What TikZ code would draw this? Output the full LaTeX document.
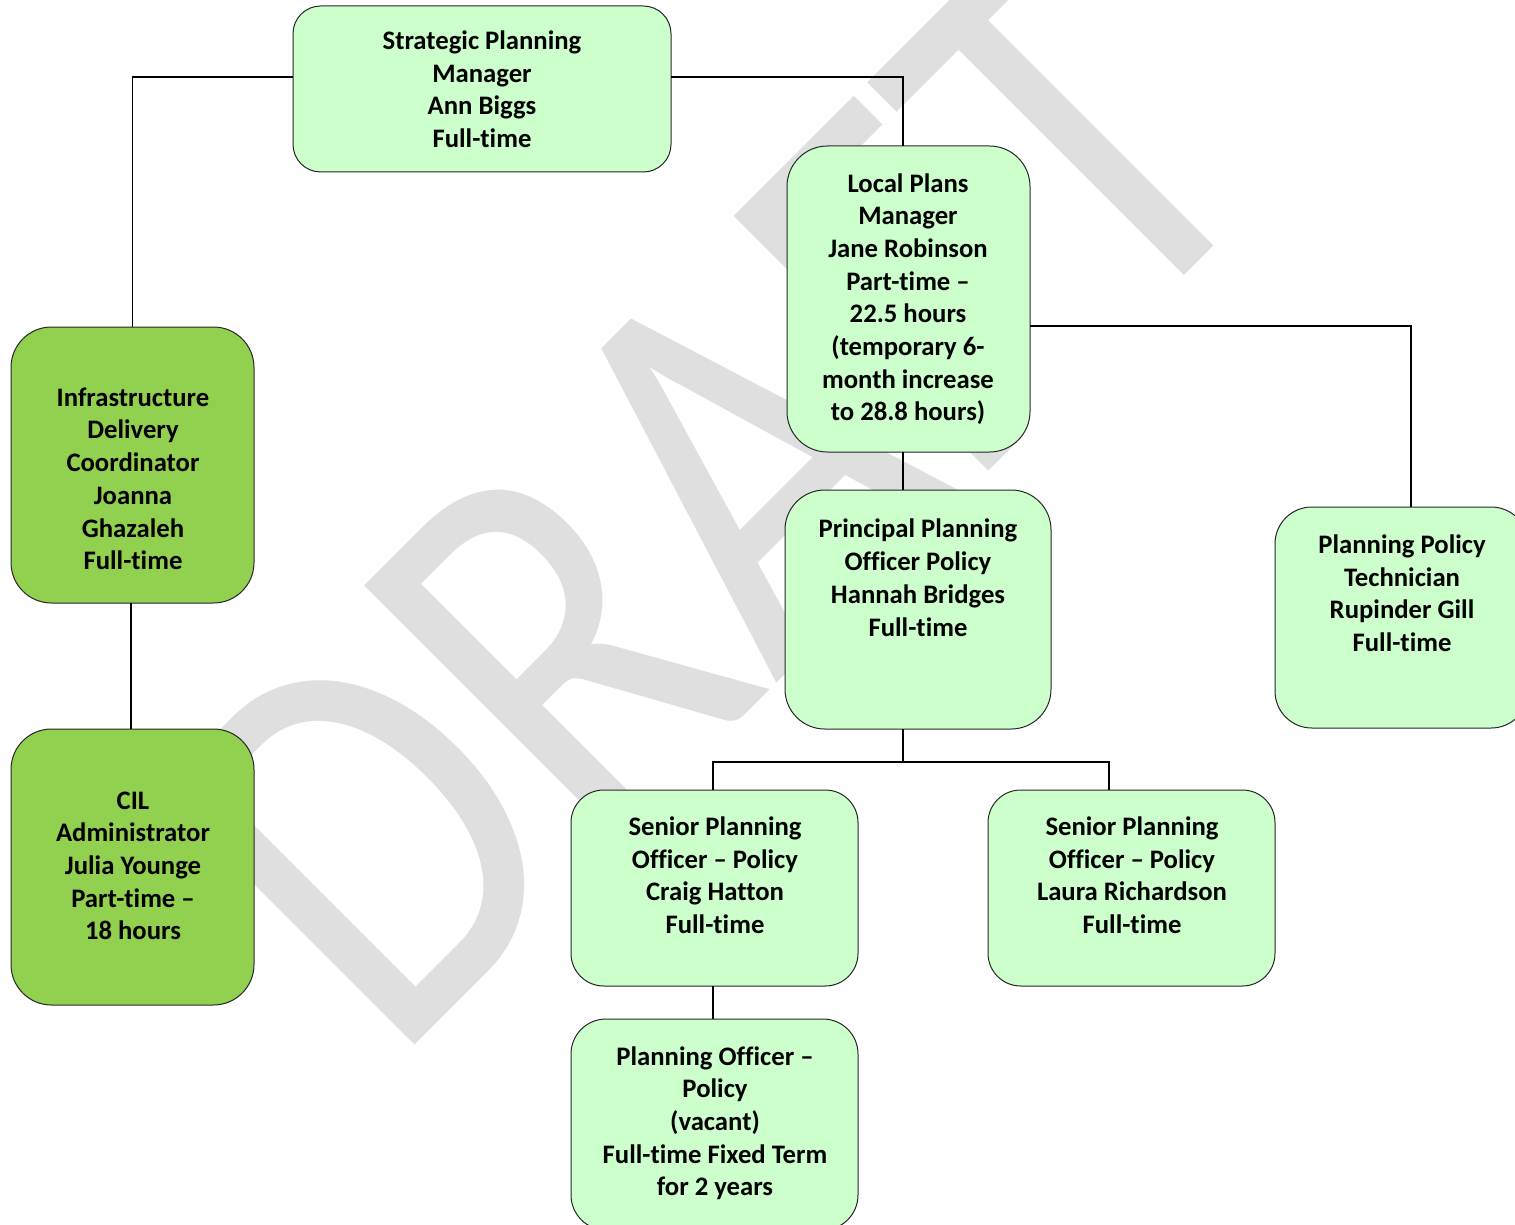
\documentclass[tikz,border=0pt]{standalone}
\usepackage{fontspec}
\setmainfont{Carlito}[Ligatures={TeX,NoCommon}]
\definecolor{lightg}{HTML}{CCFFCC}
\definecolor{darkg}{HTML}{92D050}
\definecolor{wmgray}{HTML}{DFDFDF}
\begin{document}
\begin{tikzpicture}[x=1pt,y=-1pt,
  box/.style={draw=black!85, line width=1pt, fill=lightg, inner sep=0pt, outer sep=0pt},
  dbox/.style={box, fill=darkg},
  txt/.style={align=center, inner sep=0pt, font=\bfseries\fontsize{26.7}{32.7}\selectfont},
  conn/.style={draw=black, line width=1.1pt},
  wm/.style={text=wmgray, inner sep=0pt, rotate=45, xscale=0.9, yscale=1.08, anchor=base west, font=\fontsize{520}{520}\selectfont}]
\useasboundingbox (0,0) rectangle (1515,1225);
\clip (0,0) rectangle (1515,1225);
% watermark
\node[wm] (wmark) at (392,1068) {DRAFT};
% boxes
\node[box, minimum width=378pt, minimum height=166pt, rounded corners=27.7pt] (spm) at (482,89) {};
\node[box, minimum width=243pt, minimum height=306pt, rounded corners=40.5pt] (lpm) at (908.5,299) {};
\node[dbox, minimum width=243pt, minimum height=276pt, rounded corners=40.5pt] (infra) at (132.5,465) {};
\node[dbox, minimum width=243pt, minimum height=276pt, rounded corners=40.5pt] (cil) at (132.5,867) {};
\node[box, minimum width=266pt, minimum height=239pt, rounded corners=39.8pt] (ppo) at (918,609.5) {};
\node[box, minimum width=253pt, minimum height=221pt, rounded corners=36.8pt] (ppt) at (1401.5,617.5) {};
\node[box, minimum width=287pt, minimum height=196pt, rounded corners=32.7pt] (sen1) at (714.5,888) {};
\node[box, minimum width=287pt, minimum height=196pt, rounded corners=32.7pt] (sen2) at (1131.5,888) {};
\node[box, minimum width=287pt, minimum height=211pt, rounded corners=35pt] (po) at (714.5,1124.5) {};
% connectors
\coordinate (j) at (903,762);
\draw[conn] ([yshift=12pt]spm.west) -| (infra.north);
\draw[conn] ([yshift=12pt]spm.east) -| ([xshift=-5.5pt]lpm.north);
\draw[conn] ([xshift=-1.5pt]infra.south) -- ([xshift=-1.5pt]cil.north);
\draw[conn] ([yshift=-27pt]lpm.east) -| ([xshift=9.5pt]ppt.north);
\draw[conn] ([xshift=-5.5pt]lpm.south) -- ([xshift=-15pt]ppo.north);
\draw[conn] ([xshift=-15pt]ppo.south) -- (j);
\draw[conn] ([xshift=-1.5pt]sen1.north) |- (j) -| ([xshift=-22.5pt]sen2.north);
\draw[conn] ([xshift=-1.5pt]sen1.south) -- ([xshift=-1.5pt]po.north);
% texts
\node[txt] (spm-t) at (482,92) {\strut Strategic Planning\\Manager\\Ann Biggs\\Full-time\strut};
\node[txt] (lpm-t) at (908,300) {\strut Local Plans\\Manager\\Jane Robinson\\Part-time –\\22.5 hours\\(temporary 6-\\month increase\\to 28.8 hours)\strut};
\node[txt] (infra-t) at (133,481.5) {\strut Infrastructure\\Delivery\\Coordinator\\Joanna\\Ghazaleh\\Full-time\strut};
\node[txt] (cil-t) at (133,868) {\strut CIL\\Administrator\\Julia Younge\\Part-time –\\18 hours\strut};
\node[txt] (ppo-t) at (918,580.5) {\strut Principal Planning\\Officer Policy\\Hannah Bridges\\Full-time\strut};
\node[txt] (ppt-t) at (1402,596) {\strut Planning Policy\\Technician\\Rupinder Gill\\Full-time\strut};
\node[txt] (sen1-t) at (715,878) {\strut Senior Planning\\Officer – Policy\\Craig Hatton\\Full-time\strut};
\node[txt] (sen2-t) at (1132,878) {\strut Senior Planning\\Officer – Policy\\Laura Richardson\\Full-time\strut};
\node[txt] (po-t) at (715,1124) {\strut Planning Officer –\\Policy\\(vacant)\\Full-time Fixed Term\\for 2 years\strut};
\end{tikzpicture}
\end{document}
